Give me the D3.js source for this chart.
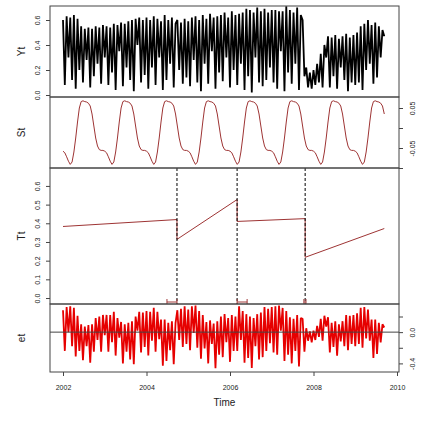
<!DOCTYPE html>
<html lang="en">
<head>
<meta charset="UTF-8">
<title>BFAST components</title>
<script src="https://d3js.org/d3.v7.min.js"></script>
<style>
  body { margin: 0; background: #fff; }
  text { font-family: "Liberation Sans", Arial, sans-serif; fill: #222; }
  .tick line { stroke: #444; }
</style>
</head>
<body>
<svg width="441" height="421"></svg>
<script>
// 23 observations per year, starting 2002
var startYear = 2002, perYear = 23;

var yt = [
  0.60,0.08,0.63,0.30,0.62,0.12,0.64,0.05,0.61,0.20,0.55,0.10,0.53,0.28,0.54,0.06,0.53,0.15,0.55,0.25,0.54,0.09,0.56,
  0.30,0.55,0.08,0.54,0.18,0.57,0.04,0.56,0.35,0.58,0.07,0.57,0.22,0.59,0.12,0.60,0.03,0.61,0.40,0.62,0.10,0.60,0.16,
  0.62,0.05,0.60,0.22,0.63,0.08,0.61,0.30,0.59,0.04,0.64,0.12,0.60,0.25,0.62,0.06,0.57,0.60,0.20,0.58,0.09,0.61,0.14,
  0.59,0.07,0.62,0.28,0.63,0.10,0.60,0.03,0.64,0.25,0.61,0.09,0.65,0.35,0.62,0.05,0.63,0.18,0.64,0.11,0.66,0.30,0.62,
  0.06,0.67,0.20,0.64,0.08,0.65,0.25,0.66,0.04,0.69,0.15,0.68,0.02,0.66,0.30,0.70,0.10,0.67,0.07,0.69,0.12,0.66,0.22,
  0.68,0.10,0.68,0.05,0.67,0.35,0.67,0.03,0.71,0.18,0.68,0.09,0.66,0.25,0.70,0.04,0.64,0.60,0.15,0.22,0.06,0.18,0.05,
  0.20,0.08,0.25,0.10,0.33,0.06,0.40,0.30,0.47,0.06,0.46,0.15,0.48,0.05,0.45,0.22,0.47,0.12,0.49,0.03,0.46,0.10,0.48,
  0.08,0.50,0.10,0.55,0.04,0.57,0.20,0.60,0.25,0.56,0.09,0.58,0.14,0.55,0.30,0.52,0.47
];

var et = [
  0.28,-0.24,0.32,0.00,0.33,-0.18,0.31,-0.31,0.21,-0.24,0.10,-0.36,0.07,-0.18,0.09,-0.39,0.10,-0.25,0.18,-0.10,0.20,-0.25,0.22,
  -0.04,0.22,-0.25,0.22,-0.13,0.26,-0.30,0.18,-0.07,0.13,-0.40,0.10,-0.25,0.12,-0.35,0.14,-0.41,0.20,0.02,0.26,-0.26,0.25,-0.19,
  0.27,-0.30,0.26,-0.11,0.31,-0.25,0.26,-0.09,0.16,-0.43,0.16,-0.37,0.12,-0.23,0.14,-0.41,0.12,0.28,-0.10,0.30,-0.19,0.33,-0.15,
  0.29,-0.23,0.33,-0.01,0.34,-0.20,0.27,-0.34,0.22,-0.21,0.13,-0.40,0.15,-0.15,0.11,-0.46,0.14,-0.29,0.20,-0.32,0.23,-0.13,0.18,
  -0.38,0.22,-0.24,0.20,-0.24,0.33,-0.10,0.27,-0.39,0.23,-0.33,0.20,-0.46,0.18,-0.18,0.23,-0.35,0.25,-0.32,0.32,-0.24,0.30,-0.14,
  0.32,-0.26,0.33,-0.29,0.34,0.02,0.31,-0.37,0.27,-0.29,0.19,-0.40,0.17,-0.24,0.22,-0.44,0.18,0.17,-0.25,0.05,-0.11,0.01,-0.13,
  0.02,-0.10,0.08,-0.06,0.17,-0.11,0.21,0.07,0.19,-0.26,0.12,-0.19,0.14,-0.30,0.10,-0.12,0.14,-0.18,0.22,-0.23,0.21,-0.15,0.22,
  -0.18,0.24,-0.15,0.31,-0.20,0.32,-0.08,0.29,-0.11,0.16,-0.33,0.16,-0.28,0.12,-0.13,0.10,0.06
];

// one seasonal cycle (same every year)
var stCycle = [-0.058,-0.062,-0.072,-0.083,-0.091,-0.085,-0.060,-0.025,0.015,0.050,0.066,0.068,
               0.066,0.065,0.062,0.055,0.035,0.005,-0.025,-0.045,-0.054,-0.056,-0.056];

// trend: breakpoints and start / end value of each segment
var breaks = [2004.73, 2006.17, 2007.80];
var trendFrom = [0.383, 0.314, 0.410, 0.218];
var trendTo = [0.420, 0.527, 0.425, 0.372];
var ciLow = [2004.49, 2006.17, 2007.77];
var ciHigh = [2004.73, 2006.41, 2007.82];

var xTicks = [2002, 2004, 2006, 2008, 2010];
var ytTicks = [0, 0.2, 0.4, 0.6];
var stTicks = [-0.1, -0.05, 0, 0.05], stLabels = [-0.05, 0.05];
var ttTicks = [0, 0.1, 0.2, 0.3, 0.4, 0.5, 0.6];
var etTicks = [-0.4, -0.2, 0, 0.2], etLabels = [-0.4, 0];

var times = yt.map(function(d, i) { return startYear + i / perYear; });
var st = yt.map(function(d, i) { return stCycle[i % perYear]; });

var svg = d3.select("svg");
var left = 50, right = 399;
var x = d3.scaleLinear().domain([2002, 2010]).range([63, 397]);

var panels = [
  {name: "Yt", top: 6, bottom: 97, domain: [-0.016, 0.712], side: "left", ticks: ytTicks, labels: ytTicks, dec: 1},
  {name: "St", top: 97, bottom: 168, domain: [-0.1, 0.0775], side: "right", ticks: stTicks, labels: stLabels, dec: 2},
  {name: "Tt", top: 168, bottom: 304, domain: [-0.032, 0.696], side: "left", ticks: ttTicks, labels: ttTicks, dec: 1},
  {name: "et", top: 304, bottom: 372, domain: [-0.51, 0.36], side: "right", ticks: etTicks, labels: etLabels, dec: 1}
];

panels.forEach(function(p) {
  p.y = d3.scaleLinear().domain(p.domain).range([p.bottom, p.top]);

  var axis = (p.side == "left" ? d3.axisLeft(p.y) : d3.axisRight(p.y))
    .tickValues(p.ticks).tickSize(4)
    .tickFormat(function(d) { return p.labels.indexOf(d) >= 0 ? d.toFixed(p.dec) : ""; });

  var g = svg.append("g")
    .attr("transform", "translate(" + (p.side == "left" ? left : right) + ",0)")
    .call(axis);
  g.select(".domain").remove();
  g.selectAll("text")
    .attr("x", 0)
    .attr("y", p.side == "left" ? -10 : 16)
    .attr("dy", 0)
    .attr("transform", "rotate(-90)")
    .attr("text-anchor", "middle")
    .style("font-size", "7px")
    .style("fill", "#222");

  svg.append("text")
    .attr("transform", "translate(21," + ((p.top + p.bottom) / 2) + ") rotate(-90)")
    .attr("text-anchor", "middle")
    .attr("dy", "0.35em")
    .style("font-size", "10px")
    .text(p.name);
});

var yY = panels[0].y, yS = panels[1].y, yT = panels[2].y, yE = panels[3].y;

// Yt
svg.append("path")
  .attr("d", d3.line().x(function(d, i) { return x(times[i]); }).y(function(d) { return yY(d); })(yt))
  .attr("fill", "none").attr("stroke", "#000").attr("stroke-width", 1.8)
  .attr("stroke-linejoin", "bevel");

// St
svg.append("path")
  .attr("d", d3.line().x(function(d, i) { return x(times[i]); }).y(function(d) { return yS(d); })(st))
  .attr("fill", "none").attr("stroke", "#9e3434").attr("stroke-width", 1);

// Tt segments
var segStart = [startYear].concat(breaks);
var segEnd = breaks.concat([times[times.length - 1]]);
var trendPts = [];
trendFrom.forEach(function(v, k) {
  trendPts.push([segStart[k], v]);
  trendPts.push([segEnd[k], trendTo[k]]);
});
svg.append("path")
  .attr("d", d3.line().x(function(d) { return x(d[0]); }).y(function(d) { return yT(d[1]); })(trendPts))
  .attr("fill", "none").attr("stroke", "#9e3434").attr("stroke-width", 1);

// breakpoints
svg.selectAll(".brk").data(breaks).enter().append("line")
  .attr("x1", function(d) { return x(d); }).attr("x2", function(d) { return x(d); })
  .attr("y1", panels[2].top).attr("y2", panels[2].bottom)
  .attr("stroke", "#000").attr("stroke-dasharray", "3,2").attr("stroke-width", 1);

var ciY = panels[2].bottom - 2;
var ci = svg.selectAll(".ci").data(ciLow).enter().append("g").attr("stroke", "#a03a3a");
ci.append("line")
  .attr("x1", function(d) { return x(d); })
  .attr("x2", function(d, k) { return x(ciHigh[k]); })
  .attr("y1", ciY).attr("y2", ciY);
ci.append("line")
  .attr("x1", function(d) { return x(d); }).attr("x2", function(d) { return x(d); })
  .attr("y1", ciY - 3).attr("y2", ciY + 2);
ci.append("line")
  .attr("x1", function(d, k) { return x(ciHigh[k]); }).attr("x2", function(d, k) { return x(ciHigh[k]); })
  .attr("y1", ciY - 3).attr("y2", ciY + 2);

// et
svg.append("path")
  .attr("d", d3.line().x(function(d, i) { return x(times[i]); }).y(function(d) { return yE(d); })(et))
  .attr("fill", "none").attr("stroke", "#e60000").attr("stroke-width", 1.8)
  .attr("stroke-linejoin", "bevel");
svg.append("line")
  .attr("x1", left).attr("x2", right).attr("y1", yE(0)).attr("y2", yE(0))
  .attr("stroke", "#444").attr("stroke-width", 1);

// panel frames
panels.forEach(function(p) {
  svg.append("rect")
    .attr("x", left).attr("y", p.top)
    .attr("width", right - left).attr("height", p.bottom - p.top)
    .attr("fill", "none").attr("stroke", "#444").attr("stroke-width", 1);
});

// time axis
var xg = svg.append("g")
  .attr("transform", "translate(0," + panels[3].bottom + ")")
  .call(d3.axisBottom(x).tickValues(xTicks).tickSize(4).tickPadding(9).tickFormat(d3.format("d")));
xg.select(".domain").remove();
xg.selectAll("text").style("font-size", "7px").style("fill", "#222");

svg.append("text")
  .attr("x", (left + right) / 2).attr("y", 406)
  .attr("text-anchor", "middle")
  .style("font-size", "10px")
  .text("Time");
</script>
</body>
</html>
